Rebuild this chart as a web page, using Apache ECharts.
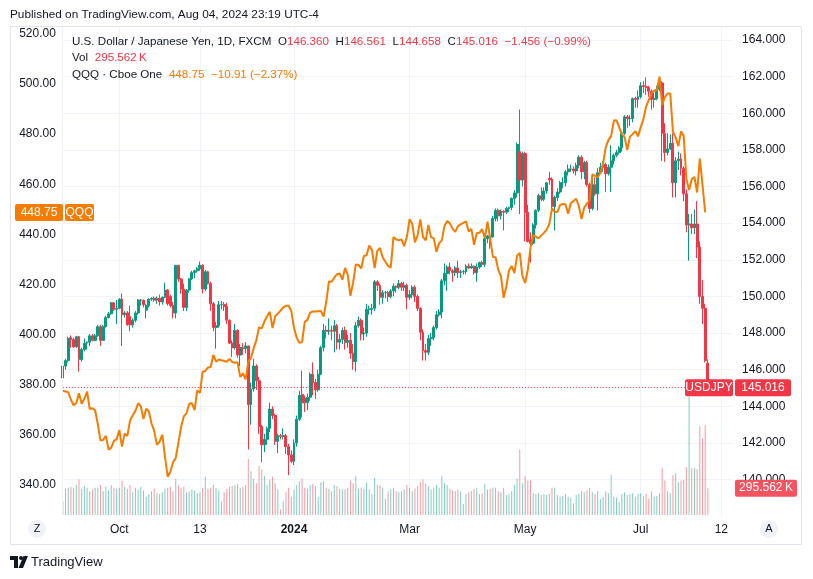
<!DOCTYPE html>
<html><head><meta charset="utf-8">
<script src="https://cdn.jsdelivr.net/npm/echarts@6/dist/echarts.min.js"></script>
<style>html,body{margin:0;padding:0;background:#fff}#c{width:813px;height:579px}</style>
</head><body><div id="c"></div>
<script>
// ---------- data ----------
const firstDay = '2023-09-01', lastDay = '2024-08-16';
const fxClosedDays = ['2024-01-01'];
const tickLabels = [['2023-10-02','Oct'],['2023-11-13','13'],['2024-01-02','2024'],['2024-03-01','Mar'],['2024-05-01','May'],['2024-07-01','Jul'],['2024-08-12','12']];
const rightTicks = [140,142,144,146,148,150,152,154,156,158,160,162,164];
const leftTicks = [340,360,380,400,420,440,460,480,500,520];

// USDJPY daily [open, close, low, high]
const usdjpy = [
[145.55,146.2,144.45,146.3],[146.2,146.5,146.0,146.6],[146.5,147.7,146.4,147.8],[147.75,147.65,147.2,147.87],[147.65,147.25,147.2,147.75],
[147.25,147.8,147.2,147.85],[147.8,146.55,145.9,147.85],[146.55,147.1,146.45,147.2],[147.1,147.45,147.0,147.7],[147.45,147.5,147.1,147.55],
[147.5,147.85,147.3,147.95],[147.85,147.6,147.55,147.95],[147.6,147.85,147.55,147.95],[147.85,148.35,147.8,148.45],[148.35,147.6,147.3,148.45],
[147.6,148.35,147.6,148.45],[148.35,148.85,148.3,148.95],[148.85,149.05,148.8,149.15],[149.05,149.65,149.0,149.7],[149.65,149.3,149.2,149.7],
[149.3,149.35,148.5,149.8],
[149.35,149.85,149.3,149.9],[149.85,149.0,147.3,150.16],[149.0,149.1,148.85,149.2],[149.1,148.45,148.4,149.2],[148.9,148.45,148.1,149.5],
[148.45,148.7,148.3,148.8],[148.7,149.1,148.6,149.2],[149.1,149.8,149.0,149.85],[149.8,149.8,149.5,149.85],[149.8,149.55,149.4,149.8],
[149.25,149.5,148.8,149.6],[149.5,149.85,149.4,149.9],[149.85,149.9,149.75,149.95],[149.9,149.8,149.7,150.0],[149.8,149.9,149.6,150.0],
[149.9,149.7,149.5,150.1],[149.7,149.95,149.55,150.0],[149.95,150.35,149.9,150.75],[150.35,149.6,149.5,150.4],[150.0,149.5,149.4,150.1],
[149.5,149.1,148.8,149.7],[149.1,151.7,148.8,151.7],
[151.7,150.95,150.8,151.7],[150.95,150.4,150.15,151.0],[150.4,149.4,149.2,150.7],
[149.4,150.35,149.2,150.4],[150.35,150.95,150.2,151.0],[150.95,151.3,150.9,151.4],[151.3,151.4,151.0,151.45],[151.4,151.5,151.3,151.6],
[151.5,151.7,151.4,151.9],[151.7,150.4,150.15,151.75],[150.4,151.35,150.3,151.45],[151.35,150.7,150.65,151.4],[150.7,149.6,149.2,150.8],
[149.6,148.3,148.1,149.7],[148.3,148.4,147.15,148.6],[148.4,149.55,148.3,149.75],[149.55,149.55,149.3,149.75],[149.55,149.45,149.2,149.7],
[149.45,148.7,148.5,149.65],[148.7,147.45,147.4,148.75],[147.45,147.2,146.7,147.6],[147.2,148.15,147.1,148.5],
[148.15,146.8,146.65,148.2],
[146.8,147.2,146.2,147.4],[147.2,147.15,146.8,147.45],[147.15,147.3,146.9,147.5],[147.3,144.1,141.65,147.3],[144.1,144.95,143.0,145.3],
[144.95,146.2,144.8,146.6],[146.2,145.4,144.9,146.3],[145.4,142.9,142.5,145.6],[142.9,141.9,140.95,143.0],[141.9,142.2,141.5,142.5],
[142.2,142.8,141.9,142.9],[142.8,143.85,142.6,144.2],[143.85,143.5,143.3,144.0],[143.5,142.1,141.9,143.6],[142.1,142.4,141.45,142.5],
[142.4,142.35,142.2,142.5],[142.35,142.4,142.2,142.8],[142.4,141.8,141.4,142.5],[141.8,141.35,140.25,141.95],[141.35,141.0,140.9,141.6],
[141.0,142.0,140.8,142.2],[142.0,143.3,141.8,143.5],[143.3,144.6,143.2,144.85],[144.65,144.2,143.4,145.95],
[144.45,144.2,143.7,144.6],[144.2,144.5,143.8,144.7],[144.5,145.75,144.3,145.85],[145.75,145.3,144.6,146.4],[145.3,144.9,144.4,145.5],
[144.9,145.75,144.8,146.0],[145.75,147.2,145.7,147.3],[147.2,148.15,147.0,148.5],[148.15,148.1,147.7,148.4],[148.1,148.15,147.9,148.8],
[148.15,148.1,147.6,148.4],[148.1,148.4,146.95,148.7],[148.4,147.5,147.1,148.5],[147.5,147.65,147.1,147.95],[147.65,148.15,147.4,148.3],
[148.15,147.5,147.1,148.35],[147.5,147.6,147.2,147.9],[147.6,146.9,146.6,148.0],
[146.9,146.45,146.0,147.4],[146.45,148.4,145.9,148.6],
[148.4,148.7,148.3,148.9],[148.7,147.95,147.6,148.8],[147.95,148.0,147.6,148.3],[148.0,149.3,147.8,149.6],[149.3,149.3,149.0,149.5],
[149.3,149.35,149.0,149.6],[149.35,150.8,149.2,150.9],[150.8,150.6,150.3,150.9],[150.6,149.95,149.55,150.7],[149.95,150.2,149.6,150.35],
[150.2,150.2,149.9,150.3],[150.2,150.0,149.7,150.3],[150.0,150.3,149.9,150.4],[150.3,150.55,150.0,150.7],[150.55,150.5,150.2,150.6],
[150.5,150.7,150.4,150.9],[150.7,150.5,150.3,150.8],[150.5,150.6,150.3,150.8],[150.6,149.95,149.3,150.7],
[149.95,150.1,149.8,150.35],
[150.1,150.5,149.9,150.6],[150.5,150.0,149.7,150.6],[150.0,149.35,149.2,150.1],[149.35,148.05,147.6,149.4],[148.05,147.05,146.5,148.2],
[147.05,146.95,146.5,147.4],[146.95,147.7,146.8,147.9],[147.7,147.75,147.3,148.0],[147.75,148.3,147.6,148.4],[148.3,149.0,148.2,149.2],
[149.0,149.15,148.9,149.3],[149.15,150.85,148.8,150.95],[150.85,151.25,150.6,151.8],[151.25,151.6,150.3,151.7],[151.6,151.4,151.2,151.85],
[151.4,151.3,150.8,151.5],[151.3,151.55,151.1,151.65],[151.55,151.3,151.0,151.95],[151.3,151.35,151.0,151.45],[151.35,151.35,151.2,151.45],
[151.35,151.65,151.2,151.75],[151.65,151.55,151.5,151.8],[151.55,151.65,151.5,151.8],[151.65,151.3,151.2,151.7],[151.3,151.6,150.8,151.8],
[151.6,151.85,151.5,151.9],[151.85,151.75,151.6,151.95],[151.75,153.15,151.6,153.25],[153.15,153.3,152.9,153.35],[153.3,153.25,152.6,153.4],
[153.25,154.25,153.2,154.4],[154.25,154.7,154.1,154.8],[154.7,154.4,154.1,154.8],[154.4,154.65,154.2,154.75],[154.65,154.6,153.6,154.7],
[154.6,154.8,154.5,154.9],[154.8,154.85,154.6,154.9],[154.85,155.35,154.7,155.4],[155.35,155.65,155.0,155.8],[155.65,158.3,155.4,158.4],
[157.9,156.35,154.5,160.2],[156.35,157.8,156.0,157.9],
[157.8,154.6,153.0,157.9],[154.6,153.0,152.95,155.0],[153.1,152.9,151.85,153.5],
[152.9,153.9,152.8,154.0],[153.9,154.7,153.7,154.75],[154.7,155.5,154.6,155.6],[155.5,155.3,155.2,155.95],[155.3,155.75,155.2,155.95],
[155.75,156.2,155.6,156.25],[156.45,156.35,156.1,156.8],[156.4,154.9,154.7,156.5],[154.9,155.4,153.6,155.5],[155.4,155.7,155.2,155.9],
[155.7,156.2,155.6,156.3],[156.2,156.2,155.9,156.5],[156.2,156.8,156.0,156.9],[156.8,156.95,156.6,157.2],[156.95,156.95,156.8,157.2],
[156.95,156.85,156.7,157.1],[156.85,157.15,156.6,157.3],[157.15,157.6,157.0,157.7],[157.6,156.8,156.4,157.7],[156.8,157.3,156.4,157.4],
[157.3,156.1,156.0,157.4],[156.1,154.8,154.55,156.2],[154.8,156.1,154.7,156.4],[156.1,155.6,155.5,156.5],[155.6,156.75,154.7,157.0],
[156.75,157.05,156.7,157.3],[157.05,157.2,156.8,157.4],[157.2,156.7,155.7,157.3],[156.7,157.05,156.6,157.2],[157.05,157.4,155.7,158.25],
[157.4,157.7,157.2,157.8],[157.7,157.85,157.6,158.0],[157.85,158.1,157.75,158.2],[158.1,158.9,157.9,159.0],[158.9,159.8,158.8,159.9],
[159.8,159.7,159.2,159.9],[159.7,159.7,159.3,159.9],[159.7,160.8,159.5,160.85],[160.8,160.75,160.3,160.9],[160.75,160.9,160.3,161.25],
[160.9,161.5,160.8,161.7],[161.5,161.45,161.1,161.75],[161.45,161.4,161.0,161.95],[161.4,161.2,160.9,161.5],[161.2,160.75,160.2,161.3],
[160.75,160.8,160.3,161.2],[160.8,161.3,160.7,161.5],[161.3,161.65,161.2,161.8],[161.65,158.9,157.4,161.75],[158.9,157.85,157.35,159.45],
[157.85,158.05,157.7,158.9],[158.05,158.35,158.0,158.85],[158.35,156.2,155.4,158.9],[156.2,157.4,155.4,157.6],[157.4,157.5,156.9,157.9],
[157.5,157.0,156.6,157.8],[157.0,155.6,155.2,157.1],[155.6,153.9,153.5,155.85],[153.9,153.95,151.95,154.5],[153.95,153.75,153.4,154.5],
[153.75,153.95,153.4,154.75],[153.95,152.7,152.1,155.2],[152.7,150.0,149.6,153.0],
[150.0,149.35,148.5,150.9],[149.35,146.5,146.4,149.6],[146.36,145.016,144.658,146.561]
];

// QQQ daily close (null = US market closed)
const qqq = [
377.6,null,377.0,374.0,371.8,372.7,376.6,372.4,374.4,377.3,370.3,370.6,369.8,364.3,357.7,358.0,359.6,354.1,354.9,357.6,358.3,
361.9,355.3,360.5,359.6,365.7,367.8,369.6,372.6,371.4,366.3,370.4,369.3,364.5,361.6,356.0,357.3,360.1,351.2,343.3,345.3,349.1,350.8,
356.9,363.2,367.4,368.6,372.3,372.7,369.9,377.7,376.8,385.2,385.5,386.9,387.1,391.9,389.2,390.1,null,389.5,389.2,390.3,389.1,388.8,
389.0,383.1,384.6,382.1,389.2,390.7,394.6,397.8,402.9,402.5,405.3,407.3,409.1,402.6,407.3,408.4,null,410.9,411.5,411.5,409.5,
402.6,398.8,396.7,397.0,405.1,405.9,408.8,409.2,409.2,null,409.4,407.2,413.1,421.2,421.1,422.7,424.1,424.4,421.9,426.6,423.8,415.5,
420.8,428.0,427.8,426.4,431.4,431.7,435.6,433.8,426.5,433.4,434.6,430.8,null,427.4,426.7,438.9,438.0,437.6,438.0,435.3,439.0,
446.0,444.2,436.8,439.7,446.0,439.0,437.6,443.8,438.8,438.5,433.0,436.5,437.6,443.4,445.3,444.4,442.3,441.0,443.3,444.0,null,
445.2,441.1,442.2,435.8,440.5,440.6,442.1,438.5,445.1,438.3,431.0,430.9,425.8,423.4,414.7,419.2,425.6,427.4,424.5,431.5,432.6,423.3,
420.6,425.9,434.7,439.7,439.1,438.4,439.6,440.6,441.9,444.1,450.4,449.0,448.9,451.7,452.1,452.0,448.2,452.4,null,454.2,451.2,446.1,450.7,
452.3,453.6,463.9,463.4,462.9,464.5,468.2,474.8,477.6,479.2,485.4,485.5,null,480.0,478.8,473.7,479.0,480.0,481.2,479.1,
482.7,486.0,491.0,null,496.2,497.3,497.6,502.96,491.5,494.8,496.2,496.2,481.0,478.7,475.2,481.1,479.3,462.0,457.7,462.0,462.9,456.7,470.2,
459.7,448.75,null
];

// FXCM volume, thousands
const volK = [
145,290,300,310,300,330,390,290,320,300,260,280,300,300,330,260,310,270,330,300,290,
300,380,310,290,330,250,300,280,310,270,200,230,260,290,240,230,250,290,300,310,260,400,
330,300,310,250,260,280,270,240,250,300,420,290,300,330,300,270,150,250,290,310,320,330,
340,300,310,330,620,480,400,350,540,500,430,330,390,420,350,280,60,150,250,300,200,
280,330,370,400,300,290,330,340,320,200,360,370,300,290,260,330,320,290,280,280,300,380,
350,430,290,300,290,360,280,230,410,330,330,300,180,260,280,300,260,250,260,280,330,
300,260,290,320,360,390,340,320,280,300,330,300,430,350,330,290,270,260,280,260,120,
230,250,260,290,300,230,240,340,280,290,300,300,260,250,300,220,230,260,330,400,720,350,
430,380,380,240,230,240,220,230,220,230,300,300,220,200,210,230,200,190,130,220,230,260,250,
270,300,250,230,260,180,200,260,240,440,200,190,140,230,250,220,230,240,200,230,
240,210,230,180,260,200,210,240,520,380,260,240,440,460,360,380,385,525,1300,515,515,500,975,
845,985,295.562
];

const lastClose = 145.016, lastQQQ = 448.75, lastVol = 295.562;

// ---------- build ----------
const cats = [];
for (let d = new Date(firstDay + 'T00:00:00Z'); d <= new Date(lastDay + 'T00:00:00Z'); d.setUTCDate(d.getUTCDate() + 1)) {
  const wd = d.getUTCDay(); if (wd === 0 || wd === 6) continue;
  const s = d.toISOString().slice(0, 10); if (fxClosedDays.includes(s)) continue;
  cats.push(s);
}
const tickIdx = {};
tickLabels.forEach(([d, t]) => { tickIdx[cats.indexOf(d)] = t; });

const FONT = '"Liberation Sans", Arial, sans-serif';
const TXT = '#131722';
const UP = '#089981', DN = '#f23645';
const L = 62.86, R = 80.93;

function xa(g, show) {
  return {
    type: 'category', gridIndex: g, data: cats, boundaryGap: false,
    axisLine: { show: false }, axisTick: { show: false },
    axisLabel: {
      show: show, interval: (i) => tickIdx[i] !== undefined,
      formatter: (v, i) => tickIdx[i] === '2024' ? '{b|2024}' : (tickIdx[i] || ''),
      color: TXT, fontSize: 12, fontFamily: FONT, margin: 7,
      rich: { b: { fontWeight: 'bold', fontSize: 12, color: TXT, fontFamily: FONT } }
    },
    splitLine: { show: show, interval: (i) => tickIdx[i] !== undefined, lineStyle: { color: '#f0f3fa', width: 1 } }
  };
}

const chart = echarts.init(document.getElementById('c'), null, { renderer: 'canvas' });
const option = {
  animation: false,
  backgroundColor: '#ffffff',
  grid: [
    { left: L, right: R, top: 28, bottom: 62.7, outerBoundsMode: 'none' },
    { left: L, right: R, top: 28, bottom: 43.9, outerBoundsMode: 'none' },
    { left: L, right: R, top: 315, bottom: 64, outerBoundsMode: 'none' }
  ],
  xAxis: [xa(0, true), xa(1, false), xa(2, false)],
  yAxis: [
    { type: 'value', gridIndex: 0, position: 'right', min: 138, max: 164.65, interval: 2,
      axisLine: { show: false }, axisTick: { show: false },
      axisLabel: { color: TXT, fontSize: 12, fontFamily: FONT, margin: 10,
        formatter: (v) => rightTicks.includes(Math.round(v * 1000) / 1000) ? v.toFixed(3) : '' },
      splitLine: { show: true, showMinLine: false, showMaxLine: false, lineStyle: { color: '#f0f3fa', width: 1 } } },
    { type: 'value', gridIndex: 1, position: 'left', min: 320, max: 522.35, interval: 20,
      axisLine: { show: false }, axisTick: { show: false },
      axisLabel: { color: TXT, fontSize: 12, fontFamily: FONT, margin: 7,
        formatter: (v) => leftTicks.includes(Math.round(v * 100) / 100) ? v.toFixed(2) : '' },
      splitLine: { show: false } },
    { type: 'value', gridIndex: 2, min: 0, max: 2200, show: false, splitLine: { show: false } }
  ],
  series: [
    { type: 'bar', xAxisIndex: 2, yAxisIndex: 2, barWidth: 1, z: 1,
      data: volK.map((v, i) => ({ value: v, itemStyle: { color: usdjpy[i][1] >= usdjpy[i][0] ? 'rgba(8,153,129,0.5)' : 'rgba(242,54,69,0.5)' } })) },
    { type: 'candlestick', xAxisIndex: 0, yAxisIndex: 0, data: usdjpy, barWidth: 2.4, z: 2,
      itemStyle: { color: UP, color0: DN, borderColor: UP, borderColor0: DN, borderWidth: 1 },
      markLine: { symbol: 'none', silent: true, label: { show: false },
        lineStyle: { color: DN, type: [1, 2], width: 1 }, data: [{ yAxis: lastClose }] } },
    { type: 'line', xAxisIndex: 1, yAxisIndex: 1, data: qqq, showSymbol: false, connectNulls: true, z: 3,
      lineStyle: { color: '#f57c00', width: 2 }, itemStyle: { color: '#f57c00' } }
  ]
};
chart.setOption(option);

const yPx = chart.convertToPixel({ yAxisIndex: 0 }, lastClose);
const yQ = chart.convertToPixel({ yAxisIndex: 1 }, lastQQQ);
const yV = chart.convertToPixel({ yAxisIndex: 2 }, lastVol);

function box(x, y, w, h, fill, text) {
  return [
    { type: 'rect', shape: { x: x, y: y - h / 2, width: w, height: h, r: 2 }, style: { fill: fill }, z: 50 },
    { type: 'text', x: x + w / 2, y: y, style: { text: text, fill: '#fff', font: '12px ' + FONT, align: 'center', verticalAlign: 'middle' }, z: 51 }
  ];
}

const HF = '11.6px ' + FONT;
const rich = {
  n: { fill: TXT, font: HF },
  r: { fill: DN, font: HF },
  o: { fill: '#f57c00', font: HF }
};

const g = [
  { type: 'rect', shape: { x: 10.5, y: 26.5, width: 791, height: 518 }, style: { fill: 'none', stroke: '#e0e3eb', lineWidth: 1 }, z: 40 },
  { type: 'line', shape: { x1: 62.5, y1: 27, x2: 62.5, y2: 515 }, style: { stroke: '#eef0f4', lineWidth: 1 }, z: 40 },
  { type: 'text', x: 10, y: 15, style: { text: 'Published on TradingView.com, Aug 04, 2024 23:19 UTC-4', fill: TXT, font: '11.8px ' + FONT, verticalAlign: 'middle' }, z: 60 },
  { type: 'text', x: 72, y: 42, style: { text: '{n|U.S. Dollar / Japanese Yen, 1D, FXCM}  {n|O}{r|146.360}  {n|H}{r|146.561}  {n|L}{r|144.658}  {n|C}{r|145.016}  {r|\u22121.456 (\u22120.99%)}', rich: rich, verticalAlign: 'middle' }, z: 60 },
  { type: 'text', x: 72, y: 58, style: { text: '{n|Vol}  {r|295.562\u2009K}', rich: rich, verticalAlign: 'middle' }, z: 60 },
  { type: 'text', x: 72, y: 75, style: { text: '{n|QQQ \u00b7 Cboe One}  {o|448.75}  {o|\u221210.91 (\u22122.37%)}', rich: rich, verticalAlign: 'middle' }, z: 60 },
  // time-axis buttons
  { type: 'circle', shape: { cx: 37, cy: 529, r: 9 }, style: { fill: '#f0f3fa' }, z: 60 },
  { type: 'text', x: 37, y: 529, style: { text: 'Z', fill: TXT, font: '11px ' + FONT, align: 'center', verticalAlign: 'middle' }, z: 61 },
  { type: 'circle', shape: { cx: 769, cy: 529, r: 9 }, style: { fill: '#f0f3fa' }, z: 60 },
  { type: 'text', x: 769, y: 529, style: { text: 'A', fill: TXT, font: '11px ' + FONT, align: 'center', verticalAlign: 'middle' }, z: 61 },
  // footer logo
  { type: 'polygon', shape: { points: [[10,556],[18,556],[18,568],[14,568],[14,560],[10,560]] }, style: { fill: TXT }, z: 60 },
  { type: 'circle', shape: { cx: 21, cy: 558, r: 2 }, style: { fill: TXT }, z: 60 },
  { type: 'polygon', shape: { points: [[23.5,556],[28,556],[23,568],[18.5,568]] }, style: { fill: TXT }, z: 60 },
  { type: 'text', x: 31, y: 562, style: { text: 'TradingView', fill: TXT, font: '13px ' + FONT, verticalAlign: 'middle' }, z: 60 }
];
box(685, yPx, 48, 17, DN, 'USDJPY').forEach(e => g.push(e));
box(735, yPx, 56, 17, DN, lastClose.toFixed(3)).forEach(e => g.push(e));
box(735, yV, 62, 17, '#f7525f', lastVol.toFixed(3) + '\u2009K').forEach(e => g.push(e));
box(15, yQ, 48, 17, '#f57c00', lastQQQ.toFixed(2)).forEach(e => g.push(e));
box(65, yQ, 29, 17, '#f57c00', 'QQQ').forEach(e => g.push(e));
chart.setOption({ graphic: g });
</script>
</body></html>
